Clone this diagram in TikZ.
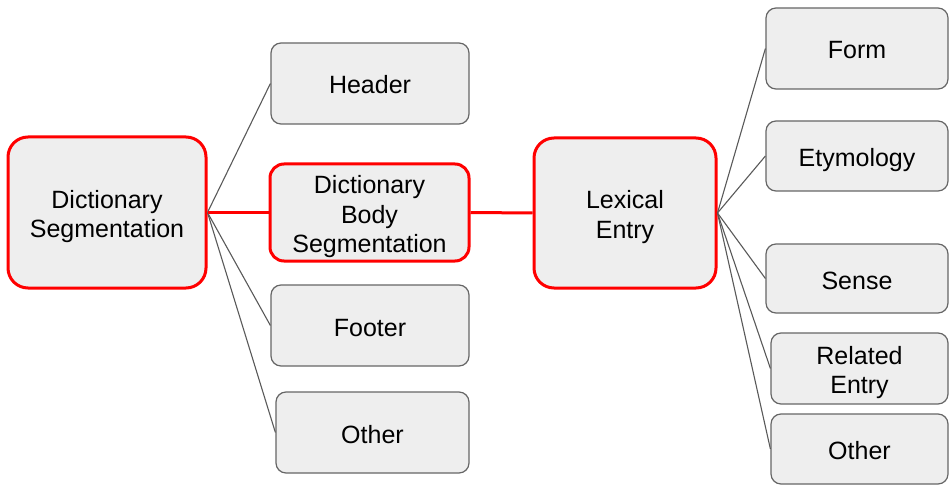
\documentclass[tikz,border=0pt]{standalone}
\usepackage{fontspec}
\setmainfont{Liberation Sans}
\definecolor{boxfill}{HTML}{EEEEEE}
\definecolor{boxline}{HTML}{666666}
\definecolor{conn}{HTML}{595959}
\definecolor{hired}{HTML}{FF0000}
\newcommand{\boxstrut}{\rule[-6pt]{0pt}{30pt}}
\newcommand{\firststrut}{\rule{0pt}{27pt}}
\newcommand{\laststrut}{\rule[-6pt]{0pt}{6pt}}
\tikzset{
  textdrop/.style={execute at begin node={\rule[-6pt]{0pt}{#1}}},
  basebox/.style={inner sep=0pt, align=center, font=\fontsize{25}{29.8}\selectfont,
    textdrop=33pt, execute at end node=\boxstrut},
  multi/.style={execute at begin node={}, execute at end node={}},
  gbox/.style={basebox, draw=boxline, line width=1.2pt, fill=boxfill, rounded corners=10pt},
  rbox/.style={basebox, draw=hired, line width=3pt, fill=boxfill, rounded corners=20pt},
  thin conn/.style={draw=conn, line width=1.1pt},
  red conn/.style={draw=hired, line width=3pt}
}
\begin{document}
\begin{tikzpicture}[x=1pt,y=-1pt]
\useasboundingbox (0,0) rectangle (950,489);
\node[rbox, multi, minimum width=198pt, minimum height=151pt] (ds) at (107,212.5) {\firststrut Dictionary\\Segmentation\laststrut};
\node[gbox, minimum width=198pt, minimum height=81pt] (hdr) at (370,83.5) {Header};
\node[rbox, multi, minimum width=199pt, minimum height=97pt, rounded corners=14pt] (dbs) at (369.5,212.5) {\firststrut Dictionary\\Body\\Segmentation\laststrut};
\node[gbox, minimum width=198pt, minimum height=81pt] (ftr) at (370,325.5) {Footer};
\node[gbox, minimum width=193pt, minimum height=81pt] (othl) at (372.5,432.5) {Other};
\node[rbox, multi, minimum width=182pt, minimum height=150pt] (le) at (625,213) {\firststrut Lexical\\Entry\laststrut};
\node[gbox, minimum width=182pt, minimum height=81pt] (form) at (857,48.5) {Form};
\node[gbox, minimum width=182pt, minimum height=70pt] (ety) at (857,156) {Etymology};
\node[gbox, minimum width=182pt, minimum height=69pt] (sense) at (857,278.5) {Sense};
\node[gbox, multi, minimum width=177pt, minimum height=71pt] (rel) at (859.5,368.5) {\firststrut Related\\Entry\laststrut};
\node[gbox, minimum width=177pt, minimum height=70pt] (othr) at (859.5,449) {Other};
\draw[thin conn] (ds.east) -- (hdr.west);
\draw[thin conn] (ds.east) -- (ftr.west);
\draw[thin conn] (ds.east) -- (othl.west);
\draw[red conn] (ds.east) -- (dbs.west);
\draw[red conn] (dbs.east) -- (le.west);
\draw[thin conn] (le.east) -- (form.west);
\draw[thin conn] (le.east) -- (ety.west);
\draw[thin conn] (le.east) -- (sense.west);
\draw[thin conn] (le.east) -- (rel.west);
\draw[thin conn] (le.east) -- (othr.west);
\end{tikzpicture}
\end{document}
